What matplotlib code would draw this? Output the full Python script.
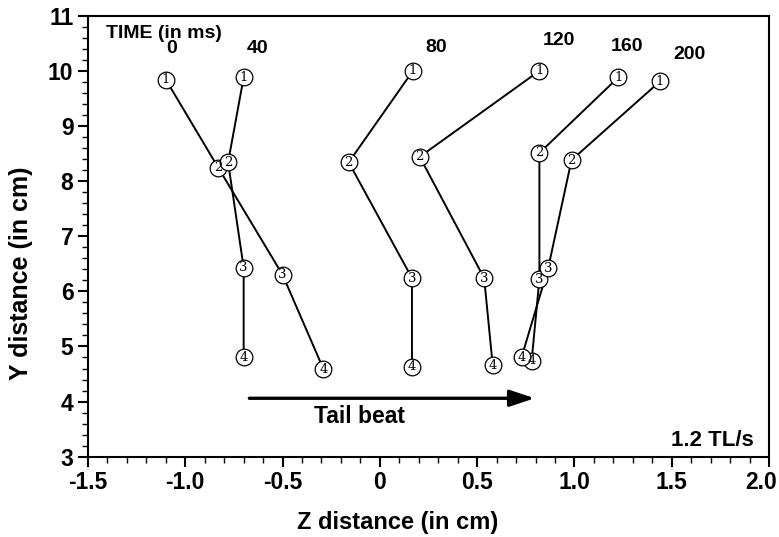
import matplotlib.pyplot as plt
from matplotlib.ticker import MultipleLocator
from matplotlib.transforms import ScaledTranslation

plt.rcParams['font.family'] = ['Liberation Sans', 'DejaVu Sans']

# time (ms) -> Z and Y positions of points 1..4
times = ["0", "40", "80", "120", "160", "200"]
z_values = [
    [-1.10, -0.83, -0.50, -0.29],
    [-0.70, -0.78, -0.70, -0.70],
    [0.17, -0.16, 0.165, 0.165],
    [0.82, 0.205, 0.536, 0.58],
    [1.225, 0.82, 0.82, 0.78],
    [1.44, 0.985, 0.865, 0.728],
]
y_values = [
    [9.84, 8.24, 6.30, 4.59],
    [9.88, 8.34, 6.43, 4.80],
    [10.0, 8.34, 6.24, 4.63],
    [10.0, 8.44, 6.24, 4.66],
    [9.88, 8.51, 6.22, 4.74],
    [9.81, 8.38, 6.42, 4.80],
]
label_z = [-1.07, -0.63, 0.29, 0.92, 1.27, 1.59]
label_y = [10.4, 10.4, 10.42, 10.55, 10.45, 10.3]

fig = plt.figure(figsize=(7.79, 5.37), dpi=100)
ax = fig.add_axes([88 / 779, (537 - 456.7) / 537, (769 - 88) / 779, (456.7 - 15.7) / 537])

for i in range(len(times)):
    ax.plot(z_values[i], y_values[i], '-', color='black', lw=1.4, zorder=2)
    ax.plot(z_values[i], y_values[i], 'o', ms=12, mfc='white', mec='black', mew=0.9, zorder=3)
    for k in range(4):
        ax.text(z_values[i][k], y_values[i][k], str(k + 1), ha='center', va='center',
                fontsize=9.5, family='DejaVu Serif', zorder=4)
    ax.text(label_z[i], label_y[i], times[i], ha='center', va='center', fontsize=14, fontweight='bold')

ax.text(-1.41, 10.68, "TIME (in ms)", ha='left', va='center', fontsize=14, fontweight='bold')
ax.annotate('', xy=(0.81, 4.06), xytext=(-0.685, 4.06),
            arrowprops=dict(arrowstyle='-|>,head_length=1.5,head_width=0.5', color='black', lw=2.4))
ax.text(-0.34, 3.73, "Tail beat", ha='left', va='center', fontsize=16.5, fontweight='bold')
ax.text(1.92, 3.30, "1.2 TL/s", ha='right', va='center', fontsize=16, fontweight='bold')

ax.set_xlim(-1.5, 2.0)
ax.set_ylim(3, 11)
ax.set_xticks([-1.5, -1.0, -0.5, 0, 0.5, 1.0, 1.5, 2.0])
ax.set_xticklabels(["-1.5", "-1.0", "-0.5", "0", "0.5", "1.0", "1.5", "2.0"])
ax.xaxis.set_minor_locator(MultipleLocator(0.1))
ax.yaxis.set_major_locator(MultipleLocator(1))
ax.yaxis.set_minor_locator(MultipleLocator(0.2))
ax.tick_params(which='major', direction='out', length=7, width=1.5, labelsize=16.5)
ax.tick_params(which='minor', direction='out', length=4, width=1.0)
for lab in ax.get_xticklabels() + ax.get_yticklabels():
    lab.set_fontweight('bold')
last = ax.get_xticklabels()[-1]
last.set_transform(last.get_transform() + ScaledTranslation(-0.08, 0, fig.dpi_scale_trans))
for s in ax.spines.values():
    s.set_linewidth(1.5)

ax.set_xlabel("Z distance (in cm)", fontsize=17, fontweight='bold')
ax.set_ylabel("Y distance (in cm)", fontsize=18, fontweight='bold')
ax.xaxis.set_label_coords(0.454, -0.122)
ax.yaxis.set_label_coords(-0.081, 0.417)

fig.savefig("out.png", dpi=100)
